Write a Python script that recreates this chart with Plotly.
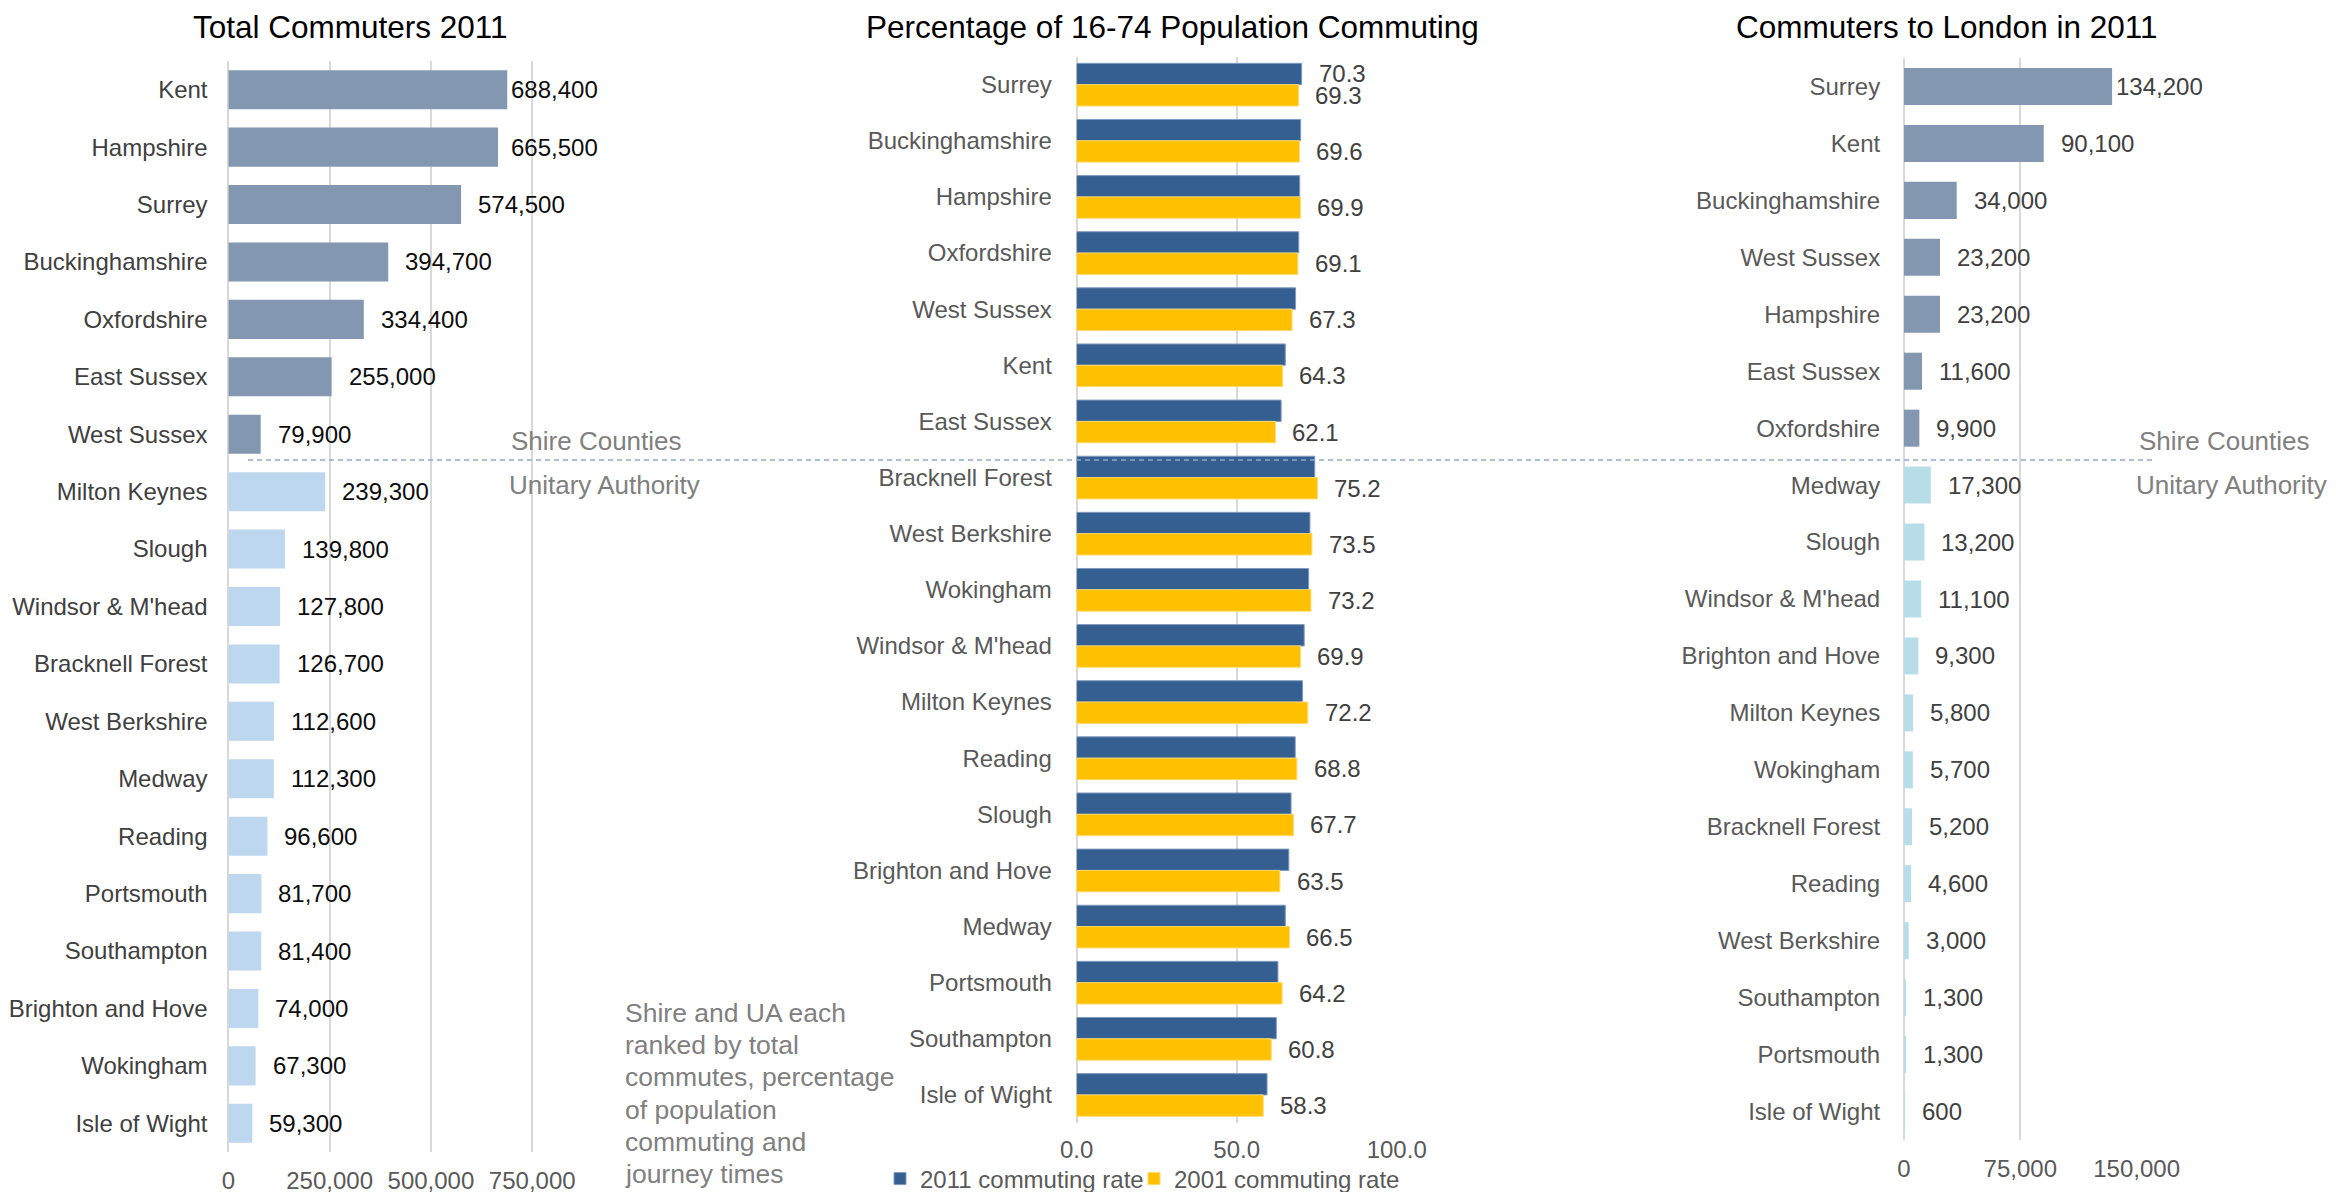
import plotly.graph_objects as go

W, H = 2336, 1192          # browser window
OX, OY = 8, 8              # default page body margin
FW, FH = W - OX, H - OY    # figure size so the page fits the window exactly
FONT = "Liberation Sans, Arial, sans-serif"

# ---------------- data ----------------
# Panel 1: Total commuters 2011
total_areas = ["Kent", "Hampshire", "Surrey", "Buckinghamshire", "Oxfordshire", "East Sussex",
               "West Sussex", "Milton Keynes", "Slough", "Windsor & M'head", "Bracknell Forest",
               "West Berkshire", "Medway", "Reading", "Portsmouth", "Southampton",
               "Brighton and Hove", "Wokingham", "Isle of Wight"]
total_commuters = [688400, 665500, 574500, 394700, 334400, 255000, 79900, 239300, 139800,
                   127800, 126700, 112600, 112300, 96600, 81700, 81400, 74000, 67300, 59300]
total_n_shire = 7

# Panel 2: Percentage of 16-74 population commuting
pct_areas = ["Surrey", "Buckinghamshire", "Hampshire", "Oxfordshire", "West Sussex", "Kent",
             "East Sussex", "Bracknell Forest", "West Berkshire", "Wokingham", "Windsor & M'head",
             "Milton Keynes", "Reading", "Slough", "Brighton and Hove", "Medway", "Portsmouth",
             "Southampton", "Isle of Wight"]
rate_2011 = [70.3, 70.0, 69.7, 69.4, 68.4, 65.2, 63.9, 74.4, 72.9, 72.5, 71.1, 70.6, 68.3,
             67.0, 66.3, 65.2, 62.9, 62.4, 59.5]
rate_2001 = [69.3, 69.6, 69.9, 69.1, 67.3, 64.3, 62.1, 75.2, 73.5, 73.2, 69.9, 72.2, 68.8,
             67.7, 63.5, 66.5, 64.2, 60.8, 58.3]
rate_2011_labelled = ["Surrey"]

# Panel 3: Commuters to London in 2011
london_areas = ["Surrey", "Kent", "Buckinghamshire", "West Sussex", "Hampshire", "East Sussex",
                "Oxfordshire", "Medway", "Slough", "Windsor & M'head", "Brighton and Hove",
                "Milton Keynes", "Wokingham", "Bracknell Forest", "Reading", "West Berkshire",
                "Southampton", "Portsmouth", "Isle of Wight"]
london_commuters = [134200, 90100, 34000, 23200, 23200, 11600, 9900, 17300, 13200, 11100,
                    9300, 5800, 5700, 5200, 4600, 3000, 1300, 1300, 600]
london_n_shire = 7

titles = ["Total Commuters 2011", "Percentage of 16-74 Population Commuting",
          "Commuters to London in 2011"]
x1_ticks = [0, 250000, 500000, 750000]
x2_ticks = [0, 50, 100]
x3_ticks = [0, 75000, 150000]
legend_names = ["2011 commuting rate", "2001 commuting rate"]
note_lines = ["Shire and UA each", "ranked by total", "commutes, percentage",
              "of population", "commuting and", "journey times"]

# ---------------- style ----------------
SHIRE = "#8497B0"
UA1 = "#BDD7EE"
UA3 = "#B7DEE8"
BLUE = "#365F91"
YELLOW = "#FFC000"
GRID = "#D9D9D9"
DARK = "#404040"
GREY = "#595959"


def px(x):
    return (x - OX) / FW


def py(y):
    return 1 - (y - OY) / FH


# panel geometry (window pixels)
P1 = dict(x0=228.3, x1=593.0, y0=61, y1=1152, xmax=900000)
P2 = dict(x0=1076.6, x1=1396.7, y0=56.6, y1=1123, xmax=100)
P3 = dict(x0=1904.0, x1=2136.6, y0=58, y1=1140, xmax=150000)

fig = go.Figure()

# Panel 1 bars
c1 = [SHIRE if i < total_n_shire else UA1 for i in range(len(total_areas))]
fig.add_trace(go.Bar(y=total_areas, x=total_commuters, orientation="h", marker_color=c1,
                     marker_line_width=0,
                     width=0.68, xaxis="x", yaxis="y", showlegend=False, hoverinfo="skip"))

# Panel 2 bars
fig.add_trace(go.Bar(y=pct_areas, x=rate_2011, orientation="h", marker_color=BLUE,
                     marker_line=dict(color="#7F9BC0", width=1),
                     width=0.38, offset=-0.38, name=legend_names[0], legend="legend",
                     xaxis="x2", yaxis="y2", hoverinfo="skip"))
fig.add_trace(go.Bar(y=pct_areas, x=rate_2001, orientation="h", marker_color=YELLOW,
                     marker_line=dict(color="#FFD966", width=1),
                     width=0.38, offset=0.0, name=legend_names[1], legend="legend2",
                     xaxis="x2", yaxis="y2", hoverinfo="skip"))

# Panel 3 bars
c3 = [SHIRE if i < london_n_shire else UA3 for i in range(len(london_areas))]
fig.add_trace(go.Bar(y=london_areas, x=london_commuters, orientation="h", marker_color=c3,
                     marker_line_width=0,
                     width=0.65, xaxis="x3", yaxis="y3", showlegend=False, hoverinfo="skip"))

annotations = []


def bar_labels(areas, values, P, xref, yref, max_left, color, off=15):
    scale = (P["x1"] - P["x0"]) / P["xmax"]
    for a, v in zip(areas, values):
        end_px = P["x0"] + v * scale
        left = min(end_px + off, max_left)
        annotations.append(dict(x=v, y=a, xref=xref, yref=yref, text=f"{v:,}",
                                xanchor="left", yanchor="middle", xshift=left - end_px,
                                showarrow=False, font=dict(size=24, color=color, family=FONT)))


bar_labels(total_areas, total_commuters, P1, "x", "y", 509, "#0D0D0D")
bar_labels(london_areas, london_commuters, P3, "x3", "y3", 2114, DARK)

bar_h2 = (P2["y1"] - P2["y0"]) / len(pct_areas) * 0.38
for a, v11, v01 in zip(pct_areas, rate_2011, rate_2001):
    annotations.append(dict(x=v01, y=a, xref="x2", yref="y2", text=f"{v01:.1f}",
                            xanchor="left", yanchor="middle", xshift=15, yshift=-bar_h2 / 2,
                            showarrow=False, font=dict(size=24, color=DARK, family=FONT)))
    if a in rate_2011_labelled:
        annotations.append(dict(x=v11, y=a, xref="x2", yref="y2", text=f"{v11:.1f}",
                                xanchor="left", yanchor="middle", xshift=15, yshift=bar_h2 / 2,
                                showarrow=False, font=dict(size=24, color=DARK, family=FONT)))

# titles
for t, cx in zip(titles, [350, 1172, 1946]):
    annotations.append(dict(x=px(cx), y=py(27), xref="paper", yref="paper", text=t,
                            xanchor="center", yanchor="middle", showarrow=False,
                            font=dict(size=31.5, color="#000000", family=FONT)))

# group labels
for lx, txt, ly in [(509, "Shire Counties", 441), (507, "Unitary Authority", 485),
                    (2137, "Shire Counties", 441), (2134, "Unitary Authority", 485)]:
    annotations.append(dict(x=px(lx), y=py(ly), xref="paper", yref="paper", text=txt,
                            xanchor="left", yanchor="middle", showarrow=False,
                            font=dict(size=26, color="#808080", family=FONT)))

# note (one annotation per line for Excel-like line spacing)
for i, line in enumerate(note_lines):
    annotations.append(dict(x=px(623), y=py(1013 + 32.2 * i), xref="paper", yref="paper",
                            text=line, xanchor="left", yanchor="middle", align="left",
                            showarrow=False, font=dict(size=26.5, color="#808080", family=FONT)))

shapes = [
    dict(type="line", xref="paper", yref="paper", x0=px(248), x1=px(2153), y0=py(460), y1=py(460),
         line=dict(color="#8EA9C8", width=1.5, dash="5px,4px"), layer="above"),
]


def xaxis(P, ticks, fmt, ticklen):
    return dict(domain=[px(P["x0"]), px(P["x1"])], range=[0, P["xmax"]], tickvals=ticks,
                tickformat=fmt, showgrid=True, gridcolor=GRID, gridwidth=2,
                zeroline=True, zerolinecolor=GRID, zerolinewidth=2, showline=False,
                ticks="outside", ticklen=ticklen, tickcolor="rgba(0,0,0,0)",
                automargin=False,
                tickfont=dict(size=24, color=GREY, family=FONT), fixedrange=True)


def yaxis(P, areas, anchor, color, ticklen):
    n = len(areas)
    return dict(domain=[py(P["y1"]), py(P["y0"])], type="category", categoryorder="array",
                categoryarray=areas, range=[n - 0.5, -0.5], anchor=anchor,
                showgrid=False, zeroline=False, showline=False,
                ticks="outside", ticklen=ticklen, tickcolor="rgba(0,0,0,0)",
                automargin=False,
                tickfont=dict(size=24, color=color, family=FONT), fixedrange=True)


def legend_at(xpix):
    return dict(orientation="h", x=px(xpix), y=py(1179), xanchor="left", yanchor="middle",
                font=dict(size=24, color=GREY, family=FONT), itemwidth=30,
                bgcolor="rgba(0,0,0,0)", borderwidth=0)


fig.update_layout(
    template="none",
    width=FW, height=FH,
    margin=dict(l=0, r=0, t=0, b=0, pad=0, autoexpand=False),
    paper_bgcolor="white", plot_bgcolor="white",
    font=dict(family=FONT, size=24, color=GREY),
    barmode="overlay",
    xaxis=dict(xaxis(P1, x1_ticks, ",d", 7), anchor="y"),
    yaxis=yaxis(P1, total_areas, "x", DARK, 15),
    xaxis2=dict(xaxis(P2, x2_ticks, ".1f", 5), anchor="y2"),
    yaxis2=yaxis(P2, pct_areas, "x2", GREY, 19),
    xaxis3=dict(xaxis(P3, x3_ticks, ",d", 7), anchor="y3"),
    yaxis3=yaxis(P3, london_areas, "x3", GREY, 18),
    legend=legend_at(880),
    legend2=legend_at(1134),
    annotations=annotations,
    shapes=shapes,
)

fig.write_html("out.html")
